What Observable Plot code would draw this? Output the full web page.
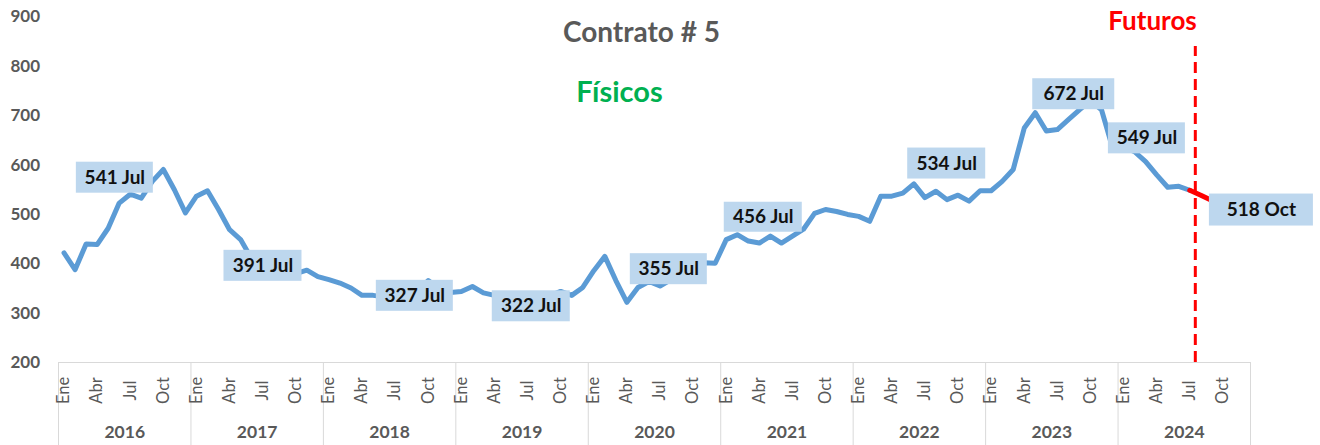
<!DOCTYPE html>
<html>
<head>
<meta charset="utf-8">
<script src="https://cdn.jsdelivr.net/npm/d3@7"></script>
<script src="https://cdn.jsdelivr.net/npm/@observablehq/plot@0.6"></script>
<style>
  html, body { margin: 0; padding: 0; background: #ffffff; }
  #chart { width: 1320px; height: 445px; }
</style>
</head>
<body>
<div id="chart"></div>
<script>
// ---------------- DATA ----------------
const years = [2016, 2017, 2018, 2019, 2020, 2021, 2022, 2023, 2024];
const monthTickNames = ["Ene", "Abr", "Jul", "Oct"];
const monthTickIndex = [0, 3, 6, 9];
const allMonthNames = ["Ene","Feb","Mar","Abr","May","Jun","Jul","Ago","Sep","Oct","Nov","Dic"];
const yTicks = [200, 300, 400, 500, 600, 700, 800, 900];

// Físicos: monthly, Ene 2016 .. Jul 2024
const fisicos = [
  422, 388, 440, 439, 472, 523, 541, 533, 567, 591, 550, 503, // 2016
  537, 548, 510, 469, 449, 410, 391, 382, 378, 380, 387, 374, // 2017
  368, 361, 351, 336, 336, 333, 327, 335, 345, 366, 350, 342, // 2018
  344, 354, 341, 336, 330, 326, 322, 328, 335, 344, 336, 352, // 2019
  386, 415, 366, 322, 352, 364, 355, 368, 380, 392, 402, 401, // 2020
  449, 459, 446, 442, 456, 442, 456, 470, 502, 510, 506, 500, // 2021
  496, 486, 537, 537, 543, 562, 534, 547, 530, 539, 527, 548, // 2022
  548, 567, 591, 675, 706, 669, 672, 692, 712, 730, 712, 635, // 2023
  636, 627, 607, 580, 555, 557, 549                           // 2024
];
// Futuros: Jul 2024 .. Oct 2024
const futuros = [549, 539, 528, 518];
const futurosStartMonth = 102;      // Jul 2024 (month index from Ene 2016)
const futurosLineTop = 840;

// Labelled points (month index from Ene 2016)
const labelMonths = [6, 18, 30, 42, 54, 66, 78, 90, 102, 105];

// ---------------- STYLE / LAYOUT ----------------
const labelLayout = [
  {dx: -15.4, dy: -16.5, w: 77, h: 31},
  {dx: 0.3,   dy: -2.4,  w: 78, h: 31},
  {dx: 19.7,  dy: -4,    w: 77, h: 31},
  {dx: 3.7,   dy: 4,     w: 78, h: 31},
  {dx: 8.8,   dy: -16.8, w: 77, h: 31},
  {dx: -29.2, dy: -18.9, w: 78, h: 30},
  {dx: 21.8,  dy: -34.1, w: 78, h: 31},
  {dx: 16.4,  dy: -35.3, w: 82, h: 31},
  {dx: -42.9, dy: -51.9, w: 77, h: 31},
  {dx: 38.5,  dy: 4.5,   w: 104, h: 32}
];

const allValues = fisicos.concat(futuros.slice(1));
const labels = labelMonths.map((m, i) => ({
  m,
  v: allValues[m],
  text: `${allValues[m]} ${allMonthNames[m % 12]}`,
  ...labelLayout[i]
}));

const monthTicks = [];
years.forEach((yr, yi) => monthTickIndex.forEach((mi, k) => monthTicks.push({m: yi * 12 + mi, label: monthTickNames[k]})));
const yearBounds = d3.range(0, years.length * 12 + 1, 12);

const GRAY = "#595959";
const BLUE = "#5B9BD5";

const labelMarks = labels.flatMap(l => [
  Plot.rect([l], {
    x1: d => d.m + 0.5, x2: d => d.m + 0.5, y1: d => d.v, y2: d => d.v,
    insetLeft: -l.w / 2, insetRight: -l.w / 2, insetTop: -l.h / 2, insetBottom: -l.h / 2,
    dx: l.dx, dy: l.dy, fill: "#BDD7EE"
  }),
  Plot.text([l], {
    x: d => d.m + 0.5, y: d => d.v, text: d => d.text,
    dx: l.dx, dy: l.dy, fontSize: 19, fontWeight: "bold", fill: "#111111",
    textAnchor: "middle", lineAnchor: "middle"
  })
]);

const chart = Plot.plot({
  width: 1320,
  height: 445,
  marginLeft: 58,
  marginRight: 70,
  marginTop: 16.5,
  marginBottom: 83,
  style: {fontFamily: "Lato, 'Open Sans', sans-serif", background: "#ffffff"},
  x: {domain: [0, years.length * 12], axis: null},
  y: {domain: [200, 900], axis: null},
  marks: [
    // y axis labels
    Plot.axisY(yTicks, {tickSize: 0, tickPadding: 18.5, fontSize: 17, fontWeight: "bold", fill: GRAY, label: null}),
    // year separators below the axis
    Plot.axisX(yearBounds, {tickSize: 83, stroke: "#d9d9d9", fill: "none", label: null, tickFormat: () => ""}),
    // baseline
    Plot.ruleY([200], {stroke: "#d9d9d9", strokeWidth: 1.2}),
    // month labels
    Plot.text(monthTicks, {
      x: d => d.m + 0.5, text: d => d.label, frameAnchor: "bottom",
      rotate: -90, dy: 28, textAnchor: "middle", lineAnchor: "middle",
      fontSize: 16.5, fill: GRAY
    }),
    // year labels
    Plot.text(years, {
      x: (d, i) => i * 12 + 6, text: d => String(d), frameAnchor: "bottom",
      dy: 69.5, textAnchor: "middle", lineAnchor: "middle",
      fontSize: 17.5, fontWeight: "bold", fill: GRAY
    }),
    // series
    Plot.line(fisicos, {x: (d, i) => i + 0.5, y: d => d, stroke: BLUE, strokeWidth: 5, strokeLinejoin: "round", strokeLinecap: "round"}),
    Plot.line(futuros, {x: (d, i) => futurosStartMonth + i + 0.5, y: d => d, stroke: "#FF0000", strokeWidth: 5, strokeLinejoin: "round"}),
    // futures divider
    Plot.ruleX([futurosStartMonth + 1], {y1: 200, y2: futurosLineTop, stroke: "#FF0000", strokeWidth: 3, strokeDasharray: "11,6"}),
    // value labels
    ...labelMarks,
    // titles
    Plot.text(["Contrato # 5"], {text: d => d, frameAnchor: "top", dx: -13, dy: 16.5, lineAnchor: "middle", fontSize: 28, fontWeight: "bold", fill: GRAY}),
    Plot.text(["Físicos"], {text: d => d, frameAnchor: "top", dx: -35, dy: 75.5, lineAnchor: "middle", fontSize: 29, fontWeight: "bold", fill: "#00B050"}),
    Plot.text(["Futuros"], {text: d => d, frameAnchor: "top", dx: 498, dy: 4.5, lineAnchor: "middle", fontSize: 26, fontWeight: "bold", fill: "#FF0000"})
  ]
});

document.getElementById("chart").appendChild(chart);
</script>
</body>
</html>
